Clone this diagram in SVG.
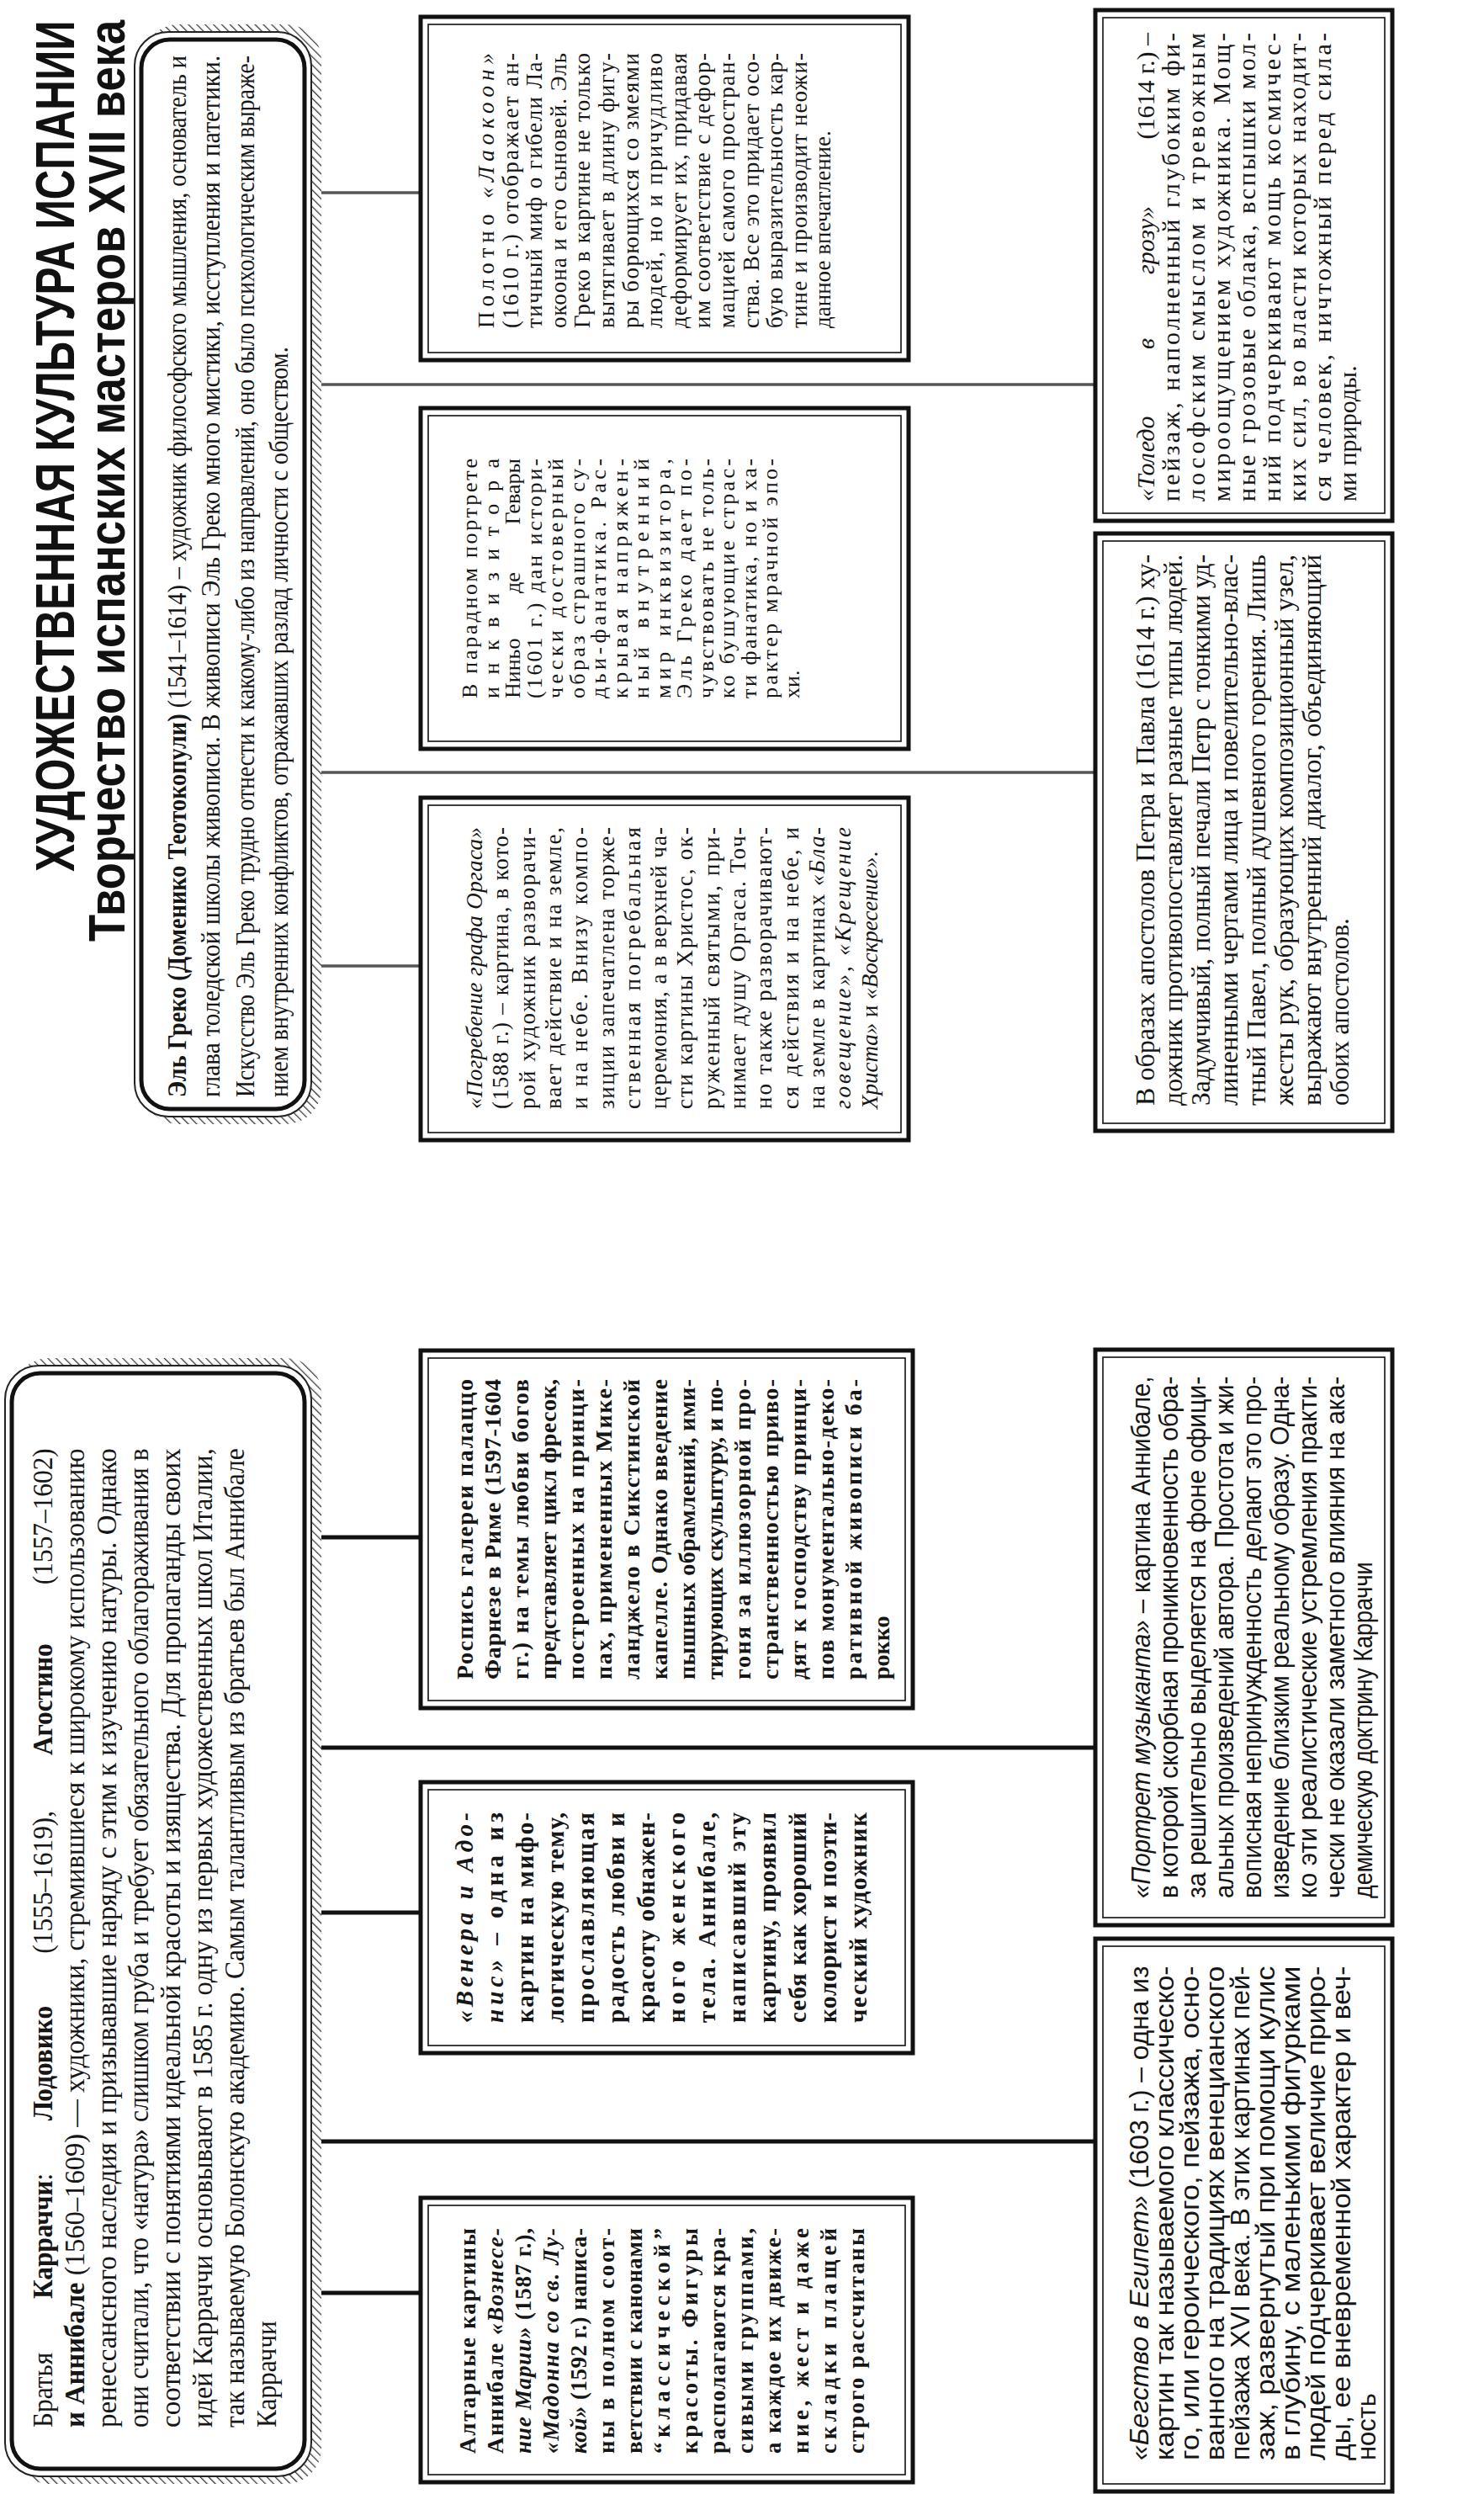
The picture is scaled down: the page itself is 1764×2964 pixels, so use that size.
<svg xmlns="http://www.w3.org/2000/svg" width="1764" height="2964" viewBox="0 0 1764 2964">
<defs>
<pattern id="hatch" width="7" height="7" patternUnits="userSpaceOnUse" patternTransform="rotate(45)">
<rect width="7" height="7" fill="#fff"/>
<line x1="0" y1="0" x2="0" y2="7" stroke="#333" stroke-width="2.5"/>
</pattern>
</defs>
<style>
.ser{font-family:"Liberation Serif","Times New Roman",serif;fill:#161616}
.san{font-family:"Liberation Sans",Arial,sans-serif;fill:#161616}
.ttl{font-family:"Liberation Sans",Arial,sans-serif;font-weight:700;fill:#111}
.b{font-weight:700}
.i{font-style:italic}
.box{fill:#fff;stroke:#111;stroke-width:5}
.inner{fill:none;stroke:#111;stroke-width:1.6}
.hdr{fill:#fff;stroke:#222;stroke-width:2}
.hdrIn{fill:none;stroke:#111;stroke-width:5}
.shadow{fill:url(#hatch)}
.conS{stroke:#555;stroke-width:3.5}
.conI{stroke:#111;stroke-width:5}
.e{text-anchor:end}
</style>
<rect width="1764" height="2964" fill="#fff"/>
<g transform="translate(0,2964) rotate(-90)">

<g id="connectors">
<line class="conS" x1="2735" y1="382" x2="2735" y2="500"/>
<line class="conS" x1="2507" y1="382" x2="2507" y2="1302"/>
<line class="conS" x1="2046" y1="382" x2="2046" y2="1302"/>
<line class="conS" x1="1816" y1="382" x2="1816" y2="500"/>
<line class="conI" x1="1137" y1="382" x2="1137" y2="500"/>
<line class="conI" x1="887" y1="382" x2="887" y2="1302"/>
<line class="conI" x1="691" y1="382" x2="691" y2="500"/>
<line class="conI" x1="419" y1="382" x2="419" y2="1302"/>
<line class="conI" x1="239" y1="382" x2="239" y2="500"/>
</g>

<g id="title">
<g transform="translate(1928,0) scale(0.712,1)">
<text class="ttl" x="0" y="88" font-size="64" textLength="1421" lengthAdjust="spacingAndGlyphs">ХУДОЖЕСТВЕННАЯ КУЛЬТУРА ИСПАНИИ</text>
</g>
<g transform="translate(1845,0) scale(0.78,1)">
<text class="ttl" x="0" y="148" font-size="62" textLength="1404" lengthAdjust="spacingAndGlyphs">Творчество испанских мастеров XVII века</text>
</g>
</g>

<g id="greco">
<rect class="shadow" x="1628" y="170" width="1307" height="212" rx="42"/>
<rect class="hdr" x="1637" y="160" width="1289" height="210" rx="40"/>
<rect class="hdrIn" x="1646" y="168" width="1271" height="194" rx="34"/>
<g class="ser" font-size="32" transform="translate(1660,0) scale(0.87,1)">
<text x="0" y="221" textLength="1423" lengthAdjust="spacingAndGlyphs"><tspan class="b">Эль Греко (Доменико Теотокопули)</tspan> (1541–1614) – художник философского мышления, основатель и</text>
<text x="0" y="261" textLength="1423" lengthAdjust="spacingAndGlyphs">глава толедской школы живописи. В живописи Эль Греко много мистики, исступления и патетики.</text>
<text x="0" y="302" textLength="1423" lengthAdjust="spacingAndGlyphs">Искусство Эль Греко трудно отнести к какому-либо из направлений, оно было психологическим выраже-</text>
<text x="0" y="342" textLength="1025" lengthAdjust="spacingAndGlyphs">нием внутренних конфликтов, отражавших разлад личности с обществом.</text>
</g>
</g>

<g id="laocoon">
<rect class="box" x="2536" y="500" width="408" height="580"/>
<rect class="inner" x="2545" y="509" width="390" height="562"/>
<g class="ser" font-size="27">
<text x="2574" y="587" textLength="327" lengthAdjust="spacing">Полотно <tspan class="i">«Лаокоон»</tspan></text>
<text x="2574" y="616" textLength="327" lengthAdjust="spacing">(1610 г.) отображает ан-</text>
<text x="2574" y="644" textLength="327" lengthAdjust="spacing">тичный миф о гибели Ла-</text>
<text x="2574" y="673" textLength="327" lengthAdjust="spacing">окоона и его сыновей. Эль</text>
<text x="2574" y="701" textLength="327" lengthAdjust="spacing">Греко в картине не только</text>
<text x="2574" y="730" textLength="327" lengthAdjust="spacing">вытягивает в длину фигу-</text>
<text x="2574" y="759" textLength="327" lengthAdjust="spacing">ры борющихся со змеями</text>
<text x="2574" y="787" textLength="327" lengthAdjust="spacing">людей, но и причудливо</text>
<text x="2574" y="816" textLength="327" lengthAdjust="spacing">деформирует их, придавая</text>
<text x="2574" y="844" textLength="327" lengthAdjust="spacing">им соответствие с дефор-</text>
<text x="2574" y="873" textLength="327" lengthAdjust="spacing">мацией самого простран-</text>
<text x="2574" y="902" textLength="327" lengthAdjust="spacing">ства. Все это придает осо-</text>
<text x="2574" y="930" textLength="327" lengthAdjust="spacing">бую выразительность кар-</text>
<text x="2574" y="959" textLength="327" lengthAdjust="spacing">тине и производит неожи-</text>
<text x="2574" y="987">данное впечатление.</text>
</g>
</g>

<g id="guevara">
<rect class="box" x="2074" y="500" width="405" height="580"/>
<rect class="inner" x="2083" y="509" width="387" height="562"/>
<g class="ser" font-size="26">
<text x="2134" y="567" textLength="285" lengthAdjust="spacing">В парадном портрете</text>
<text x="2134" y="593" textLength="285" lengthAdjust="spacing">инквизитора</text>
<text x="2134" y="618">Ниньо</text>
<text x="2259" y="618">де</text>
<text class="e" x="2419" y="618">Гевары</text>
<text x="2134" y="644" textLength="285" lengthAdjust="spacing">(1601 г.) дан истори-</text>
<text x="2134" y="669" textLength="285" lengthAdjust="spacing">чески достоверный</text>
<text x="2134" y="695" textLength="285" lengthAdjust="spacing">образ страшного су-</text>
<text x="2134" y="720" textLength="285" lengthAdjust="spacing">дьи-фанатика. Рас-</text>
<text x="2134" y="746" textLength="285" lengthAdjust="spacing">крывая напряжен-</text>
<text x="2134" y="771" textLength="285" lengthAdjust="spacing">ный внутренний</text>
<text x="2134" y="797" textLength="285" lengthAdjust="spacing">мир инквизитора,</text>
<text x="2134" y="822" textLength="285" lengthAdjust="spacing">Эль Греко дает по-</text>
<text x="2134" y="848" textLength="285" lengthAdjust="spacing">чувствовать не толь-</text>
<text x="2134" y="873" textLength="285" lengthAdjust="spacing">ко бушующие страс-</text>
<text x="2134" y="899" textLength="285" lengthAdjust="spacing">ти фанатика, но и ха-</text>
<text x="2134" y="924" textLength="285" lengthAdjust="spacing">рактер мрачной эпо-</text>
<text x="2134" y="950">хи.</text>
</g>
</g>

<g id="orgaz">
<rect class="box" x="1609" y="500" width="407" height="580"/>
<rect class="inner" x="1618" y="509" width="389" height="562"/>
<g class="ser" font-size="27">
<text x="1646" y="573" textLength="335" lengthAdjust="spacing" class="i">«Погребение графа Оргаса»</text>
<text x="1646" y="604.3" textLength="335" lengthAdjust="spacing">(1588 г.) – картина, в кото-</text>
<text x="1646" y="635.6" textLength="335" lengthAdjust="spacing">рой художник разворачи-</text>
<text x="1646" y="666.9" textLength="335" lengthAdjust="spacing">вает действие и на земле,</text>
<text x="1646" y="698.2" textLength="335" lengthAdjust="spacing">и на небе. Внизу компо-</text>
<text x="1646" y="729.5" textLength="335" lengthAdjust="spacing">зиции запечатлена торже-</text>
<text x="1646" y="760.8" textLength="335" lengthAdjust="spacing">ственная погребальная</text>
<text x="1646" y="792.1" textLength="335" lengthAdjust="spacing">церемония, а в верхней ча-</text>
<text x="1646" y="823.4" textLength="335" lengthAdjust="spacing">сти картины Христос, ок-</text>
<text x="1646" y="854.7" textLength="335" lengthAdjust="spacing">руженный святыми, при-</text>
<text x="1646" y="886" textLength="335" lengthAdjust="spacing">нимает душу Оргаса. Точ-</text>
<text x="1646" y="917.3" textLength="335" lengthAdjust="spacing">но также разворачивают-</text>
<text x="1646" y="948.6" textLength="335" lengthAdjust="spacing">ся действия и на небе, и</text>
<text x="1646" y="979.9" textLength="335" lengthAdjust="spacing">на земле в картинах <tspan class="i">«Бла-</tspan></text>
<text x="1646" y="1011.2" textLength="335" lengthAdjust="spacing"><tspan class="i">говещение»</tspan>, <tspan class="i">«Крещение</tspan></text>
<text x="1646" y="1042.5"><tspan class="i">Христа»</tspan> и <tspan class="i">«Воскресение»</tspan>.</text>
</g>
</g>

<g id="toledo">
<rect class="box" x="2345" y="1302" width="607" height="353"/>
<rect class="inner" x="2354" y="1311" width="589" height="335"/>
<g class="ser" font-size="30">
<text class="i" x="2368" y="1372">«Толедо</text>
<text class="i" x="2549" y="1372">в</text>
<text class="i" x="2638" y="1372">грозу»</text>
<text class="e" x="2925" y="1372">(1614 г.) –</text>
<text x="2368" y="1402" textLength="557" lengthAdjust="spacing">пейзаж, наполненный глубоким фи-</text>
<text x="2368" y="1432" textLength="557" lengthAdjust="spacing">лософским смыслом и тревожным</text>
<text x="2368" y="1462" textLength="557" lengthAdjust="spacing">мироощущением художника. Мощ-</text>
<text x="2368" y="1492" textLength="557" lengthAdjust="spacing">ные грозовые облака, вспышки мол-</text>
<text x="2368" y="1522" textLength="557" lengthAdjust="spacing">ний подчеркивают мощь космичес-</text>
<text x="2368" y="1552" textLength="557" lengthAdjust="spacing">ких сил, во власти которых находит-</text>
<text x="2368" y="1582" textLength="557" lengthAdjust="spacing">ся человек, ничтожный перед сила-</text>
<text x="2368" y="1612">ми природы.</text>
</g>
</g>

<g id="peter-paul">
<rect class="box" x="1620" y="1302" width="710" height="353"/>
<rect class="inner" x="1629" y="1311" width="692" height="335"/>
<g class="ser" font-size="31" transform="translate(1650,0) scale(0.94,1)">
<text x="0" y="1372" textLength="697" lengthAdjust="spacingAndGlyphs">В образах апостолов Петра и Павла (1614 г.) ху-</text>
<text x="0" y="1405" textLength="697" lengthAdjust="spacingAndGlyphs">дожник противопоставляет разные типы людей.</text>
<text x="0" y="1438" textLength="697" lengthAdjust="spacingAndGlyphs">Задумчивый, полный печали Петр с тонкими уд-</text>
<text x="0" y="1471" textLength="697" lengthAdjust="spacingAndGlyphs">линенными чертами лица и повелительно-влас-</text>
<text x="0" y="1504" textLength="697" lengthAdjust="spacingAndGlyphs">тный Павел, полный душевного горения. Лишь</text>
<text x="0" y="1537" textLength="697" lengthAdjust="spacingAndGlyphs">жесты рук, образующих композиционный узел,</text>
<text x="0" y="1570" textLength="697" lengthAdjust="spacingAndGlyphs">выражают внутренний диалог, объединяющий</text>
<text x="0" y="1603" textLength="237" lengthAdjust="spacingAndGlyphs">обоих апостолов.</text>
</g>
</g>

<g id="carracci">
<rect class="shadow" x="12" y="16" width="1338" height="366" rx="42"/>
<rect class="hdr" x="21" y="6" width="1320" height="364" rx="40"/>
<rect class="hdrIn" x="30" y="14" width="1302" height="348" rx="34"/>
<g class="ser" font-size="33" transform="translate(79,0) scale(0.95,1)">
<text x="0" y="62">Братья</text>
<text x="161" y="62"><tspan class="b">Карраччи</tspan>:</text>
<text x="384" y="62" class="b">Лодовико</text>
<text x="593" y="62">(1555–1619),</text>
<text x="841" y="62" class="b">Агостино</text>
<text class="e" x="1225" y="62">(1557–1602)</text>
<text x="0" y="100" textLength="1225" lengthAdjust="spacingAndGlyphs"><tspan class="b">и Аннибале</tspan> (1560–1609) — художники, стремившиеся к широкому использованию</text>
<text x="0" y="138" textLength="1225" lengthAdjust="spacingAndGlyphs">ренессансного наследия и призывавшие наряду с этим к изучению натуры. Однако</text>
<text x="0" y="176" textLength="1225" lengthAdjust="spacingAndGlyphs">они считали, что «натура» слишком груба и требует обязательного облагораживания в</text>
<text x="0" y="214" textLength="1225" lengthAdjust="spacingAndGlyphs">соответствии с понятиями идеальной красоты и изящества. Для пропаганды своих</text>
<text x="0" y="252" textLength="1225" lengthAdjust="spacingAndGlyphs">идей Карраччи основывают в 1585 г. одну из первых художественных школ Италии,</text>
<text x="0" y="290" textLength="1225" lengthAdjust="spacingAndGlyphs">так называемую Болонскую академию. Самым талантливым из братьев был Аннибале</text>
<text x="0" y="328">Карраччи</text>
</g>
</g>

<g id="farnese">
<rect class="box" x="934" y="500" width="425" height="585"/>
<rect class="inner" x="943" y="509" width="407" height="567"/>
<g class="ser b" font-size="28">
<text x="968" y="562" textLength="357" lengthAdjust="spacing">Роспись галереи палаццо</text>
<text x="968" y="595" textLength="357" lengthAdjust="spacing">Фарнезе в Риме (1597-1604</text>
<text x="968" y="628" textLength="357" lengthAdjust="spacing">гг.) на темы любви богов</text>
<text x="968" y="661" textLength="357" lengthAdjust="spacing">представляет цикл фресок,</text>
<text x="968" y="694" textLength="357" lengthAdjust="spacing">построенных на принци-</text>
<text x="968" y="727" textLength="357" lengthAdjust="spacing">пах, примененных Мике-</text>
<text x="968" y="760" textLength="357" lengthAdjust="spacing">ланджело в Сикстинской</text>
<text x="968" y="793" textLength="357" lengthAdjust="spacing">капелле. Однако введение</text>
<text x="968" y="826" textLength="357" lengthAdjust="spacing">пышных обрамлений, ими-</text>
<text x="968" y="859" textLength="357" lengthAdjust="spacing">тирующих скульптуру, и по-</text>
<text x="968" y="892" textLength="357" lengthAdjust="spacing">гоня за иллюзорной про-</text>
<text x="968" y="925" textLength="357" lengthAdjust="spacing">странственностью приво-</text>
<text x="968" y="958" textLength="357" lengthAdjust="spacing">дят к господству принци-</text>
<text x="968" y="991" textLength="357" lengthAdjust="spacing">пов монументально-деко-</text>
<text x="968" y="1024" textLength="357" lengthAdjust="spacing">ративной живописи ба-</text>
<text x="968" y="1057">рокко</text>
</g>
</g>

<g id="venus">
<rect class="box" x="524" y="500" width="322" height="585"/>
<rect class="inner" x="533" y="509" width="304" height="567"/>
<g class="ser b" font-size="29">
<text x="560" y="562" textLength="250" lengthAdjust="spacing" class="i">«Венера и Адо-</text>
<text x="560" y="598" textLength="250" lengthAdjust="spacing"><tspan class="i">нис»</tspan> – одна из</text>
<text x="560" y="634" textLength="250" lengthAdjust="spacing">картин на мифо-</text>
<text x="560" y="670" textLength="250" lengthAdjust="spacing">логическую тему,</text>
<text x="560" y="706" textLength="250" lengthAdjust="spacing">прославляющая</text>
<text x="560" y="742" textLength="250" lengthAdjust="spacing">радость любви и</text>
<text x="560" y="778" textLength="250" lengthAdjust="spacing">красоту обнажен-</text>
<text x="560" y="814" textLength="250" lengthAdjust="spacing">ного женского</text>
<text x="560" y="850" textLength="250" lengthAdjust="spacing">тела. Аннибале,</text>
<text x="560" y="886" textLength="250" lengthAdjust="spacing">написавший эту</text>
<text x="560" y="922" textLength="250" lengthAdjust="spacing">картину, проявил</text>
<text x="560" y="958" textLength="250" lengthAdjust="spacing">себя как хороший</text>
<text x="560" y="994" textLength="250" lengthAdjust="spacing">колорист и поэти-</text>
<text x="560" y="1030" textLength="250" lengthAdjust="spacing">ческий художник</text>
</g>
</g>

<g id="altar">
<rect class="box" x="14" y="500" width="338" height="585"/>
<rect class="inner" x="23" y="509" width="320" height="567"/>
<g class="ser b" font-size="27">
<text x="48" y="565" textLength="268" lengthAdjust="spacing">Алтарные картины</text>
<text x="48" y="598" textLength="268" lengthAdjust="spacing">Аннибале <tspan class="i">«Вознесе-</tspan></text>
<text x="48" y="631" textLength="268" lengthAdjust="spacing"><tspan class="i">ние Марии»</tspan> (1587 г.),</text>
<text x="48" y="664" textLength="268" lengthAdjust="spacing" class="i">«Мадонна со св. Лу-</text>
<text x="48" y="697" textLength="268" lengthAdjust="spacing"><tspan class="i">кой»</tspan> (1592 г.) написа-</text>
<text x="48" y="730" textLength="268" lengthAdjust="spacing">ны в полном соот-</text>
<text x="48" y="763" textLength="268" lengthAdjust="spacing">ветствии с канонами</text>
<text x="48" y="796" textLength="268" lengthAdjust="spacing">“классической”</text>
<text x="48" y="829" textLength="268" lengthAdjust="spacing">красоты. Фигуры</text>
<text x="48" y="862" textLength="268" lengthAdjust="spacing">располагаются кра-</text>
<text x="48" y="895" textLength="268" lengthAdjust="spacing">сивыми группами,</text>
<text x="48" y="928" textLength="268" lengthAdjust="spacing">а каждое их движе-</text>
<text x="48" y="961" textLength="268" lengthAdjust="spacing">ние, жест и даже</text>
<text x="48" y="994" textLength="268" lengthAdjust="spacing">складки плащей</text>
<text x="48" y="1027" textLength="268" lengthAdjust="spacing">строго рассчитаны</text>
</g>
</g>

<g id="portrait">
<rect class="box" x="676" y="1302" width="684" height="353"/>
<rect class="inner" x="685" y="1311" width="666" height="335"/>
<g class="san" font-size="31" transform="translate(708,0) scale(0.94,1)">
<text x="0" y="1367" textLength="660" lengthAdjust="spacingAndGlyphs"><tspan class="i">«Портрет музыканта»</tspan> – картина Аннибале,</text>
<text x="0" y="1400" textLength="660" lengthAdjust="spacingAndGlyphs">в которой скорбная проникновенность обра-</text>
<text x="0" y="1433" textLength="660" lengthAdjust="spacingAndGlyphs">за решительно выделяется на фоне офици-</text>
<text x="0" y="1466" textLength="660" lengthAdjust="spacingAndGlyphs">альных произведений автора. Простота и жи-</text>
<text x="0" y="1499" textLength="660" lengthAdjust="spacingAndGlyphs">вописная непринужденность делают это про-</text>
<text x="0" y="1532" textLength="660" lengthAdjust="spacingAndGlyphs">изведение близким реальному образу. Одна-</text>
<text x="0" y="1565" textLength="660" lengthAdjust="spacingAndGlyphs">ко эти реалистические устремления практи-</text>
<text x="0" y="1598" textLength="660" lengthAdjust="spacingAndGlyphs">чески не оказали заметного влияния на ака-</text>
<text x="0" y="1631" textLength="425" lengthAdjust="spacingAndGlyphs">демическую доктрину Карраччи</text>
</g>
</g>

<g id="flight">
<rect class="box" x="3" y="1302" width="657" height="353"/>
<rect class="inner" x="12" y="1311" width="639" height="335"/>
<g class="san" font-size="31" transform="translate(40,0) scale(0.94,1)">
<text x="0" y="1365" textLength="625" lengthAdjust="spacingAndGlyphs"><tspan class="i">«Бегство в Египет»</tspan> (1603 г.) – одна из</text>
<text x="0" y="1395" textLength="625" lengthAdjust="spacingAndGlyphs">картин так называемого классическо-</text>
<text x="0" y="1425" textLength="625" lengthAdjust="spacingAndGlyphs">го, или героического, пейзажа, осно-</text>
<text x="0" y="1455" textLength="625" lengthAdjust="spacingAndGlyphs">ванного на традициях венецианского</text>
<text x="0" y="1485" textLength="625" lengthAdjust="spacingAndGlyphs">пейзажа XVI века. В этих картинах пей-</text>
<text x="0" y="1515" textLength="625" lengthAdjust="spacingAndGlyphs">заж, развернутый при помощи кулис</text>
<text x="0" y="1545" textLength="625" lengthAdjust="spacingAndGlyphs">в глубину, с маленькими фигурками</text>
<text x="0" y="1575" textLength="625" lengthAdjust="spacingAndGlyphs">людей подчеркивает величие приро-</text>
<text x="0" y="1605" textLength="625" lengthAdjust="spacingAndGlyphs">ды, ее вневременной характер и веч-</text>
<text x="0" y="1635" textLength="85" lengthAdjust="spacingAndGlyphs">ность</text>
</g>
</g>

</g>
</svg>
